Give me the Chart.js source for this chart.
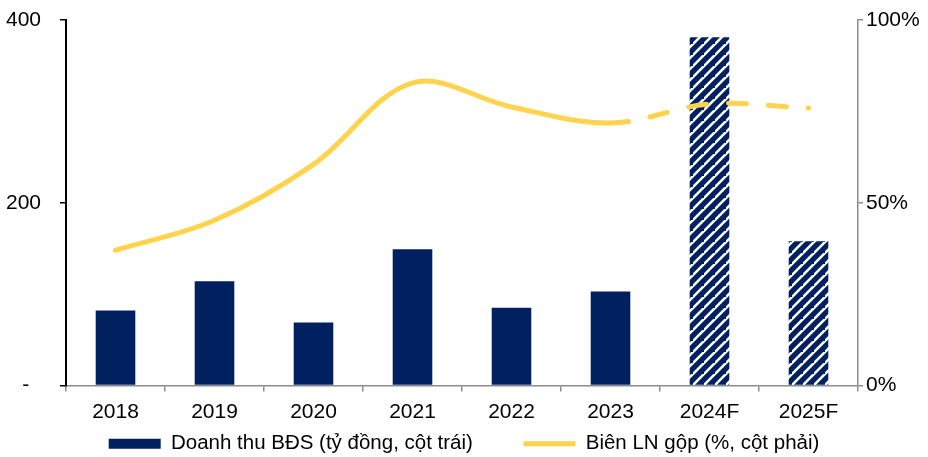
<!DOCTYPE html>
<html>
<head>
<meta charset="utf-8">
<script src="https://cdn.jsdelivr.net/npm/chart.js@4.4.1/dist/chart.umd.min.js"></script>
<style>
  html, body { margin: 0; padding: 0; background: #fff; }
  #wrap { width: 928px; height: 457px; position: relative; }
</style>
</head>
<body>
<div id="wrap"><canvas id="c" width="928" height="457"></canvas></div>
<script>
// Real-estate revenue (bn VND, left axis) and gross margin (%, right axis)
const categories = ['2018', '2019', '2020', '2021', '2022', '2023', '2024F', '2025F'];
const revenue = [82, 114, 69, 149, 85, 103, 381, 158];
const grossMargin = [37.0, 45.2, 60.5, 82.8, 76.2, 71.8, 77.0, 75.9];
const leftTicks = [0, 200, 400];
const rightTicks = [0, 50, 100];
const forecastFrom = 6;   // first forecast category (hatched bars)
const dashFrom = 5;       // line turns dashed after this point

const NAVY = '#002060';
const YELLOW = '#FFD34D';
const FONT = 'Liberation Sans, Arial, sans-serif';

// diagonal hatch for forecast bars
function hatch() {
  const s = 11;
  const p = document.createElement('canvas');
  p.width = s; p.height = s;
  const g = p.getContext('2d');
  g.fillStyle = NAVY;
  g.fillRect(0, 0, s, s);
  g.strokeStyle = '#ffffff';
  g.lineWidth = 2.6;
  g.beginPath();
  g.moveTo(-2, s + 2); g.lineTo(s + 2, -2);
  g.moveTo(-2 - s, s + 2); g.lineTo(2, -2);
  g.moveTo(s - 2, 2 * s + 2); g.lineTo(2 * s + 2, s - 2);
  g.stroke();
  return g.createPattern(p, 'repeat');
}
const pattern = hatch();
const barColors = revenue.map((v, i) => i >= forecastFrom ? pattern : NAVY);

Chart.defaults.font.family = FONT;
Chart.defaults.font.size = 21;
Chart.defaults.color = '#000';

// keep the plot edges where the axes put them, without extra label overflow room
const noOverflow = s => { s.paddingTop = 0; s.paddingBottom = 0; s.paddingLeft = 0; s.paddingRight = 0; };

new Chart(document.getElementById('c'), {
  data: {
    labels: categories,
    datasets: [
      {
        type: 'bar',
        label: 'Doanh thu BĐS (tỷ đồng, cột trái)        ',
        data: revenue,
        backgroundColor: barColors,
        borderWidth: 0,
        barPercentage: 0.4,
        categoryPercentage: 1,
        yAxisID: 'y',
        pointStyle: 'rect',
        order: 2
      },
      {
        type: 'line',
        label: 'Biên LN gộp (%, cột phải)',
        data: grossMargin,
        borderColor: YELLOW,
        backgroundColor: YELLOW,
        borderWidth: 5,
        borderCapStyle: 'round',
        pointRadius: 0,
        pointStyle: 'line',
        tension: 0.35,
        fill: false,
        yAxisID: 'y1',
        segment: {
          borderDash: ctx => ctx.p0DataIndex >= dashFrom ? [18, 22] : undefined
        },
        order: 1
      }
    ]
  },
  options: {
    responsive: false,
    animation: false,
    layout: { padding: { top: 20, left: 0, right: 0, bottom: -7 } },
    plugins: {
      tooltip: { enabled: false },
      legend: {
        position: 'bottom',
        labels: {
          usePointStyle: true,
          pointStyleWidth: 52,
          boxHeight: 10,
          padding: 5,
          font: { size: 20.5 },
          sort: (a, b) => a.datasetIndex - b.datasetIndex
        }
      }
    },
    scales: {
      x: {
        grid: { offset: true, drawOnChartArea: false, tickLength: 6, color: '#8c8c8c', lineWidth: 1.5 },
        border: { color: '#8c8c8c', width: 1.5 },
        ticks: { padding: 8, maxRotation: 0 },
        afterFit: s => { s.height = 43; noOverflow(s); }
      },
      y: {
        position: 'left',
        min: 0, max: 400,
        afterBuildTicks: s => { s.ticks = leftTicks.map(v => ({ value: v })); },
        ticks: { padding: 19, callback: v => v === 0 ? '-  ' : String(v) },
        grid: { drawOnChartArea: false, tickLength: 6, color: '#000', lineWidth: 1.5 },
        border: { color: '#000', width: 2 },
        afterFit: s => { s.width = 66; noOverflow(s); }
      },
      y1: {
        position: 'right',
        min: 0, max: 100,
        afterBuildTicks: s => { s.ticks = rightTicks.map(v => ({ value: v })); },
        ticks: { padding: 3, callback: v => v + '%' },
        grid: { drawOnChartArea: false, tickLength: 5, color: '#8c8c8c', lineWidth: 1.5 },
        border: { color: '#8c8c8c', width: 1.5 },
        afterFit: s => { s.width = 70; noOverflow(s); }
      }
    }
  }
});
</script>
</body>
</html>
